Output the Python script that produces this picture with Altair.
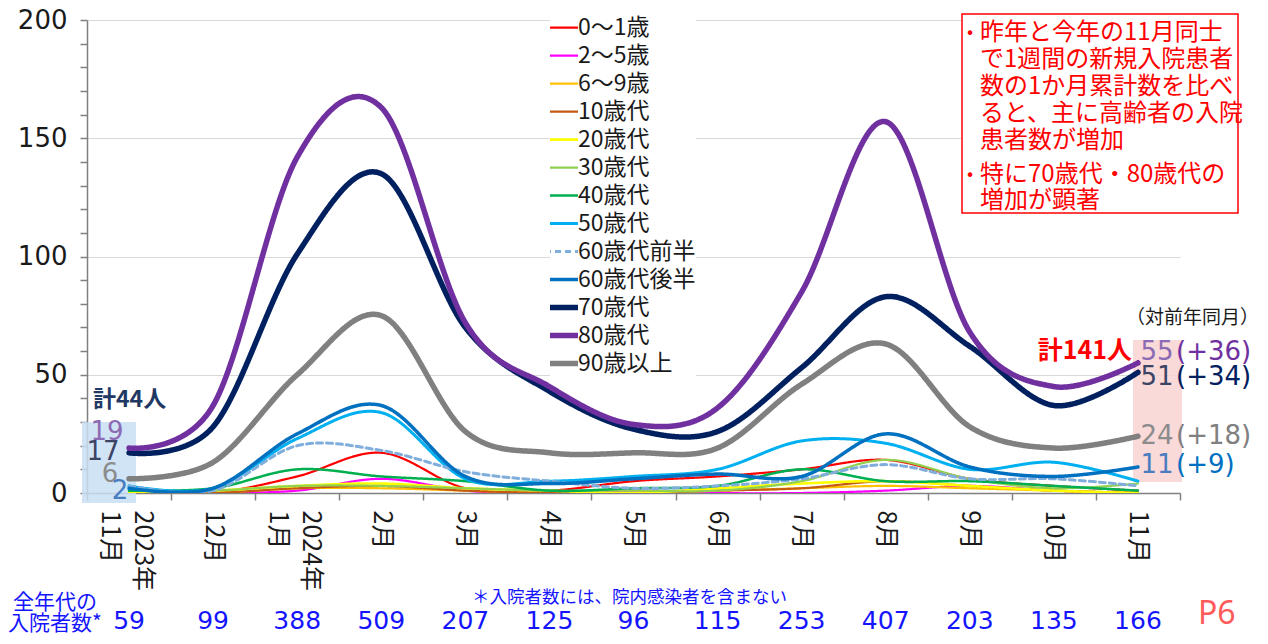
import json
import altair as alt
import pandas as pd

# ---------------- data ----------------
months = ["2023年\n11月", "12月", "2024年\n1月", "2月", "3月", "4月", "5月",
          "6月", "7月", "8月", "9月", "10月", "11月"]
ages = ["0～1歳", "2～5歳", "6～9歳", "10歳代", "20歳代", "30歳代", "40歳代",
        "50歳代", "60歳代前半", "60歳代後半", "70歳代", "80歳代", "90歳以上"]

v_0_1 = [0, 0, 7, 17, 2, 1, 5, 7, 10, 14, 6, 3, 1]
v_2_5 = [0, 0, 1, 6, 1, 0, 1, 0, 0, 1, 3, 1, 0]
v_6_9 = [0, 0, 2, 2, 1, 0, 0, 1, 2, 3, 2, 1, 0]
v_10s = [0, 0, 2, 3, 1, 0, 0, 1, 2, 5, 3, 1, 0]
v_20s = [0, 1, 3, 4, 2, 1, 0, 2, 4, 5, 3, 1, 0]
v_30s = [1, 1, 3, 3, 2, 1, 1, 1, 5, 14, 6, 2, 4]
v_40s = [1, 2, 10, 7, 5, 1, 2, 3, 10, 5, 5, 3, 1]
v_50s = [3, 2, 23, 34, 6, 5, 7, 10, 22, 21, 10, 13, 5]
v_60a = [3, 1, 20, 18, 9, 5, 2, 3, 6, 12, 6, 6, 3]
v_60b = [2, 2, 25, 37, 7, 4, 6, 8, 7, 25, 11, 7, 11]
v_70s = [17, 28, 101, 135, 70, 43, 27, 26, 53, 83, 62, 37, 51]
v_80s = [19, 37, 142, 163, 72, 45, 29, 36, 85, 157, 68, 45, 55]
v_90p = [6, 13, 50, 75, 26, 17, 17, 19, 46, 63, 28, 19, 24]
series = [v_0_1, v_2_5, v_6_9, v_10s, v_20s, v_30s, v_40s, v_50s, v_60a, v_60b,
          v_70s, v_80s, v_90p]

totals = [59, 99, 388, 509, 207, 125, 96, 115, 253, 407, 203, 135, 166]

end_labels = ["55", "51", "24", "11"]
end_diffs = ["(+36)", "(+34)", "(+18)", "(+9)"]
start_labels = ["19", "17", "6", "2"]

note_lines = ["昨年と今年の11月同士", "で1週間の新規入院患者", "数の1か月累計数を比べ",
              "ると、主に高齢者の入院", "患者数が増加", "特に70歳代・80歳代の", "増加が顕著"]

# ---------------- styles ----------------
colors = ["#FF0000", "#FF00FF", "#FFC000", "#C55A11", "#FFFF00", "#92D050", "#00B050",
          "#00B0F0", "#7FAEDC", "#0070C0", "#002060", "#7030A0", "#808080"]
widths = [2.2, 2.2, 2.2, 2.2, 2.6, 2.2, 2.5, 3, 3, 3.5, 5.5, 5.5, 5.5]
dashes = [[1, 0]] * 8 + [[6, 4]] + [[1, 0]] * 4

FONT = "Noto Sans CJK JP"
NUMFONT = "DejaVu Sans"
OX, OY = 87, 20      # page position of plot origin
W, H = 1093, 473

rows = []
for a, vals, w in zip(ages, series, widths):
    for i, v in enumerate(vals):
        rows.append({"age": a, "i": i, "v": v, "w": w})
df = pd.DataFrame(rows)

multi_idx = [k for k, m in enumerate(months) if "\n" in m]
label_js = json.dumps([m.split("\n") if "\n" in m else m for m in months], ensure_ascii=False)
multi_test = " || ".join(f"datum.value == {k}" for k in multi_idx)
xaxis = alt.Axis(
    values=[k * 0.5 - 0.5 for k in range(27)],
    labelExpr=f"datum.value % 1 != 0 ? '' : {label_js}[datum.value]",
    tickOpacity={"condition": {"test": "datum.value % 1 != 0", "value": 1}, "value": 0},
    labelOffset={"condition": {"test": multi_test, "value": 13}, "value": 0},
    labelAngle=90, labelAlign="left", labelBaseline="middle",
    labelFontSize=25, labelFont=FONT, labelColor="#1a1a1a", labelLineHeight=33,
    labelPadding=10, labelOverlap=False, labelFlush=False, labelBound=False,
    grid=False, domainColor="#808080", domainWidth=1.5, tickColor="#808080",
    tickSize=7, tickWidth=1.5, title=None,
)
yaxis = alt.Axis(
    values=list(range(0, 201, 10)),
    labelExpr="datum.value % 50 == 0 ? datum.label : ''",
    grid=True, gridColor="#D9D9D9",
    gridOpacity={"condition": {"test": "datum.value % 50 == 0 && datum.value > 0", "value": 1}, "value": 0},
    tickColor="#808080", tickSize=7, tickWidth=1.5, domainColor="#808080", domainWidth=1.5,
    labelFontSize=26, labelFont=NUMFONT, labelColor="#1a1a1a", labelPadding=13,
    labelOverlap=False, title=None,
)

# legend symbol widths follow the line widths
w_js = json.dumps(dict(zip(ages, widths)), ensure_ascii=False)
legend = alt.Legend(
    title=None, orient="none", legendX=463, legendY=-6, symbolType="stroke",
    symbolSize=1089, clipHeight=27.2, rowPadding=0, labelFontSize=23, labelFont=FONT,
    labelColor="#1a1a1a", labelOffset=5, fillColor="white", padding=0, labelLimit=300,
    symbolStrokeWidth={"expr": f"{w_js}[datum.value] || 2"},
)

xsc = alt.Scale(domain=[-0.5, 12.5], nice=False, zero=False)
ysc = alt.Scale(domain=[0, 200], nice=False)

lines = alt.Chart(df).mark_line(interpolate="cardinal", clip=True, strokeCap="round").encode(
    x=alt.X("i:Q", scale=xsc, axis=xaxis, title=None),
    y=alt.Y("v:Q", scale=ysc, axis=yaxis, title=None),
    color=alt.Color("age:O", sort=ages, scale=alt.Scale(domain=ages, range=colors), legend=legend),
    strokeDash=alt.StrokeDash("age:O", sort=ages, scale=alt.Scale(domain=ages, range=dashes), legend=legend),
    strokeWidth=alt.StrokeWidth("w:Q", scale=None),
    order=alt.Order("i:Q"),
)

one = pd.DataFrame({"k": [0]})


def box(x1, y1, x2, y2, **props):
    return alt.Chart(one).mark_rect(**props).encode(
        x=alt.value(x1 - OX), x2=alt.value(x2 - OX), y=alt.value(y1 - OY), y2=alt.value(y2 - OY))


def txt(s, px, py, size, color, align="left", weight="normal", font=FONT):
    return alt.Chart(pd.DataFrame({"t": [s]})).mark_text(
        align=align, baseline="middle", fontSize=size, color=color, font=font, fontWeight=weight
    ).encode(x=alt.value(px - OX), y=alt.value(py - OY), text="t:N")


layers = [
    box(82, 422, 136, 503, fill="#C9DFF4", opacity=0.85),
    box(1133, 340, 1182, 482, fill="#F9D2D2", opacity=0.85),
    box(962, 14, 1238, 213, fill="white", stroke="#FF0000", strokeWidth=1.5),
    lines,
]

# start labels (left)
sl_pos = [(107, 432, "#8C6BB4"), (103, 452, "#3C4466"), (110, 474, "#8C8C8C"), (120, 491, "#4A7CC0")]
for s, (px, py, c) in zip(start_labels, sl_pos):
    layers.append(txt(s, px, py, 26, c, align="center", font=NUMFONT))
layers.append(txt("計44人", 93, 400, 23, "#1F3864", weight="bold"))

# end labels (right)
el_pos = [(1157, 352, "#8C6BB4"), (1157, 377, "#3C4466"), (1157, 436, "#8C8C8C"), (1157, 465, "#4A7CC0")]
ed_col = ["#7030A0", "#002060", "#808080", "#0070C0"]
for s, d, (px, py, c), dc in zip(end_labels, end_diffs, el_pos, ed_col):
    layers.append(txt(s, px, py, 26, c, align="center", font=NUMFONT))
    layers.append(txt(d, 1176, py, 26, dc, font=NUMFONT))
layers.append(txt("計141人", 1132, 351, 25, "#FF0000", align="right", weight="bold"))
layers.append(txt("（対前年同月）", 1126, 318, 19, "#1a1a1a"))

# red note box
ny = [33, 60, 87, 114, 141, 175, 201]
for s, py in zip(note_lines, ny):
    layers.append(txt(s, 980, py, 24, "#FF0000"))
layers.append(txt("•", 970, 33, 18, "#FF0000", align="center"))
layers.append(txt("•", 970, 175, 18, "#FF0000", align="center"))

# bottom rows
tot_df = pd.DataFrame({"i": list(range(len(totals))), "n": [str(t) for t in totals]})
layers.append(
    alt.Chart(tot_df).mark_text(align="center", baseline="middle", fontSize=25, color="#1414FF", font=NUMFONT)
    .encode(x=alt.X("i:Q", scale=xsc, title=None), y=alt.value(621 - OY), text="n:N")
)
layers.append(txt("全年代の", 55, 603, 21, "#1414FF", align="center"))
layers.append(txt("入院者数*", 55, 624, 21, "#1414FF", align="center"))
layers.append(txt("＊入院者数には、院内感染者を含まない", 472, 598, 17.5, "#1414FF"))
layers.append(txt("P6", 1198, 614, 32, "#FF5B5B", font="Noto Sans"))

chart = alt.layer(*layers).properties(
    width=W, height=H,
    autosize=alt.AutoSizeParams(type="none"),
    padding={"left": 79, "top": 12, "right": 78, "bottom": 143},
    background="white",
).configure_view(stroke=None)

chart.save("out.html", embed_options={"renderer": "svg", "actions": False})
